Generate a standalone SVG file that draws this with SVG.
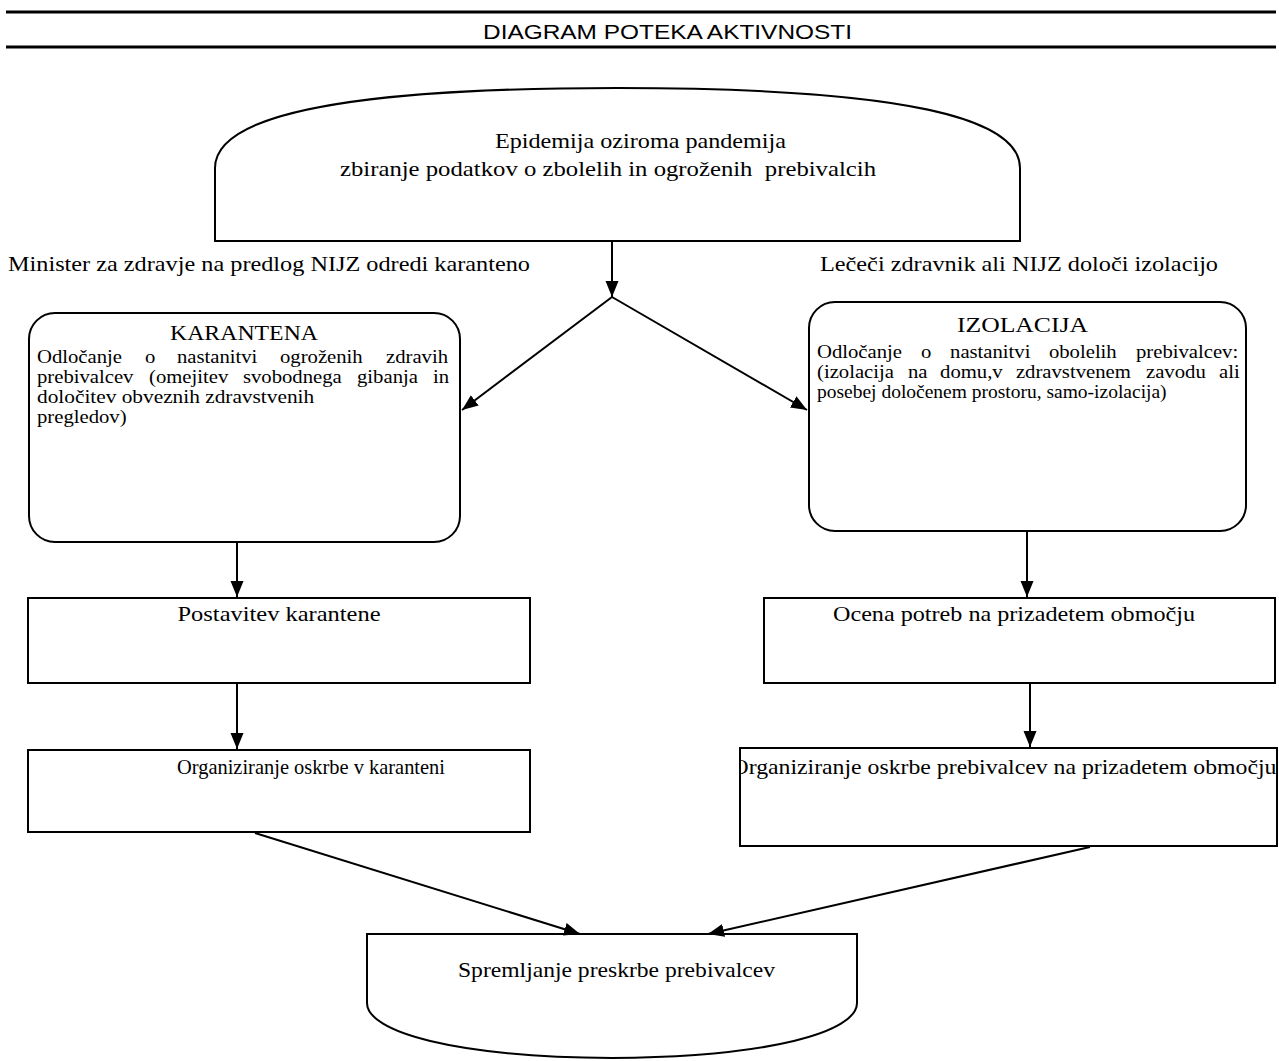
<svg xmlns="http://www.w3.org/2000/svg" width="1279" height="1061" viewBox="0 0 1279 1061">
<style>
.shape{fill:#fff;stroke:#000;stroke-width:2}
.ser{font-family:"Liberation Serif","Times New Roman",serif;fill:#000}
.t22{font-size:22px}
.b{font-size:18px}
.conn{stroke:#000;stroke-width:2;fill:none;marker-end:url(#ah)}
</style>
<defs>
<marker id="ah" markerUnits="userSpaceOnUse" markerWidth="18" markerHeight="14" refX="16" refY="6.5" orient="auto">
<path d="M0,0 L16,6.5 L0,13 Z" fill="#000"/>
</marker>
<clipPath id="clipOrgR"><rect x="741" y="749" width="535" height="96"/></clipPath>
</defs>
<rect width="1279" height="1061" fill="#fff"/>
<g id="header">
<line x1="6" y1="12" x2="1276" y2="12" stroke="#000" stroke-width="3"/>
<line x1="6" y1="47" x2="1276" y2="47" stroke="#000" stroke-width="3"/>
<text x="483" y="39" font-family="'Liberation Sans',Arial,sans-serif" font-size="21" textLength="369" lengthAdjust="spacingAndGlyphs">DIAGRAM POTEKA AKTIVNOSTI</text>
</g>
<g id="n-epidemija">
<path class="shape" d="M215,241 V168 C215,118 330,88 617,88 C905,88 1020,118 1020,168 V241 Z"/>
<text class="ser t22" x="495" y="148" textLength="291" lengthAdjust="spacingAndGlyphs">Epidemija oziroma pandemija</text>
<text class="ser t22" x="340" y="176" textLength="536" lengthAdjust="spacingAndGlyphs" style="white-space:pre">zbiranje podatkov o zbolelih in ogroženih  prebivalcih</text>
</g>
<g id="labels">
<text class="ser t22" x="8" y="271" textLength="522" lengthAdjust="spacingAndGlyphs">Minister za zdravje na predlog NIJZ odredi karanteno</text>
<text class="ser t22" x="820" y="271" textLength="398" lengthAdjust="spacingAndGlyphs">Lečeči zdravnik ali NIJZ določi izolacijo</text>
</g>
<g id="n-karantena">
<rect class="shape" x="29" y="313" width="431" height="229" rx="26" ry="26"/>
<text class="ser t22" x="170" y="340" textLength="148" lengthAdjust="spacingAndGlyphs">KARANTENA</text>
<g transform="translate(37 0) scale(1.15 1)">
<text class="ser b" y="363"><tspan x="0">Odločanje</tspan><tspan x="93.9">o</tspan><tspan x="121.7">nastanitvi</tspan><tspan x="211.3">ogroženih</tspan><tspan x="303.5">zdravih</tspan></text>
<text class="ser b" y="383"><tspan x="0">prebivalcev</tspan><tspan x="97.4">(omejitev</tspan><tspan x="179.1">svobodnega</tspan><tspan x="278.3">gibanja</tspan><tspan x="344.3">in</tspan></text>
<text class="ser b" x="0" y="403" textLength="241" lengthAdjust="spacingAndGlyphs">določitev obveznih zdravstvenih</text>
<text class="ser b" x="0" y="423">pregledov)</text>
</g>
</g>
<g id="n-izolacija">
<rect class="shape" x="809" y="302" width="437" height="229" rx="26" ry="26"/>
<text class="ser t22" x="957" y="332" textLength="131" lengthAdjust="spacingAndGlyphs">IZOLACIJA</text>
<g transform="translate(817 0) scale(1.15 1)">
<text class="ser b" y="358"><tspan x="0">Odločanje</tspan><tspan x="90.4">o</tspan><tspan x="115.7">nastanitvi</tspan><tspan x="201.7">obolelih</tspan><tspan x="277.4">prebivalcev:</tspan></text>
<text class="ser b" y="378"><tspan x="0">(izolacija</tspan><tspan x="79.1">na</tspan><tspan x="107">domu,v</tspan><tspan x="173">zdravstvenem</tspan><tspan x="286.1">zavodu</tspan><tspan x="349.6">ali</tspan></text>
<text class="ser b" x="0" y="398" textLength="304" lengthAdjust="spacingAndGlyphs">posebej določenem prostoru, samo-izolacija)</text>
</g>
</g>
<g id="n-postavitev">
<rect class="shape" x="28" y="598" width="502" height="85"/>
<text class="ser t22" x="279" y="621" text-anchor="middle" textLength="203" lengthAdjust="spacingAndGlyphs">Postavitev karantene</text>
</g>
<g id="n-ocena">
<rect class="shape" x="764" y="598" width="511" height="85"/>
<text class="ser t22" x="1014" y="621" text-anchor="middle" textLength="362" lengthAdjust="spacingAndGlyphs">Ocena potreb na prizadetem območju</text>
</g>
<g id="n-org-karantena">
<rect class="shape" x="28" y="750" width="502" height="82"/>
<text class="ser t22" x="311" y="774" text-anchor="middle" textLength="268" lengthAdjust="spacingAndGlyphs">Organiziranje oskrbe v karanteni</text>
</g>
<g id="n-org-obmocje">
<rect class="shape" x="740" y="748" width="537" height="98"/>
<text class="ser t22" x="1004" y="774" text-anchor="middle" textLength="545" lengthAdjust="spacingAndGlyphs" clip-path="url(#clipOrgR)">Organiziranje oskrbe prebivalcev na prizadetem območju</text>
</g>
<g id="n-spremljanje">
<path class="shape" d="M367,934 H857 V1003 C857,1032 770,1057 612,1058 C454,1057 367,1032 367,1003 Z"/>
<text class="ser t22" x="458" y="977" textLength="317" lengthAdjust="spacingAndGlyphs">Spremljanje preskrbe prebivalcev</text>
</g>
<g id="connectors">
<line class="conn" x1="612" y1="242" x2="612" y2="297"/>
<line class="conn" x1="612" y1="297" x2="462" y2="410"/>
<line class="conn" x1="612" y1="297" x2="807" y2="410"/>
<line class="conn" x1="237" y1="543" x2="237" y2="597"/>
<line class="conn" x1="1027" y1="532" x2="1027" y2="597"/>
<line class="conn" x1="237" y1="684" x2="237" y2="749"/>
<line class="conn" x1="1030" y1="684" x2="1030" y2="747"/>
<line class="conn" x1="255" y1="833" x2="580" y2="934"/>
<line class="conn" x1="1090" y1="847" x2="708" y2="934"/>
</g>
</svg>
